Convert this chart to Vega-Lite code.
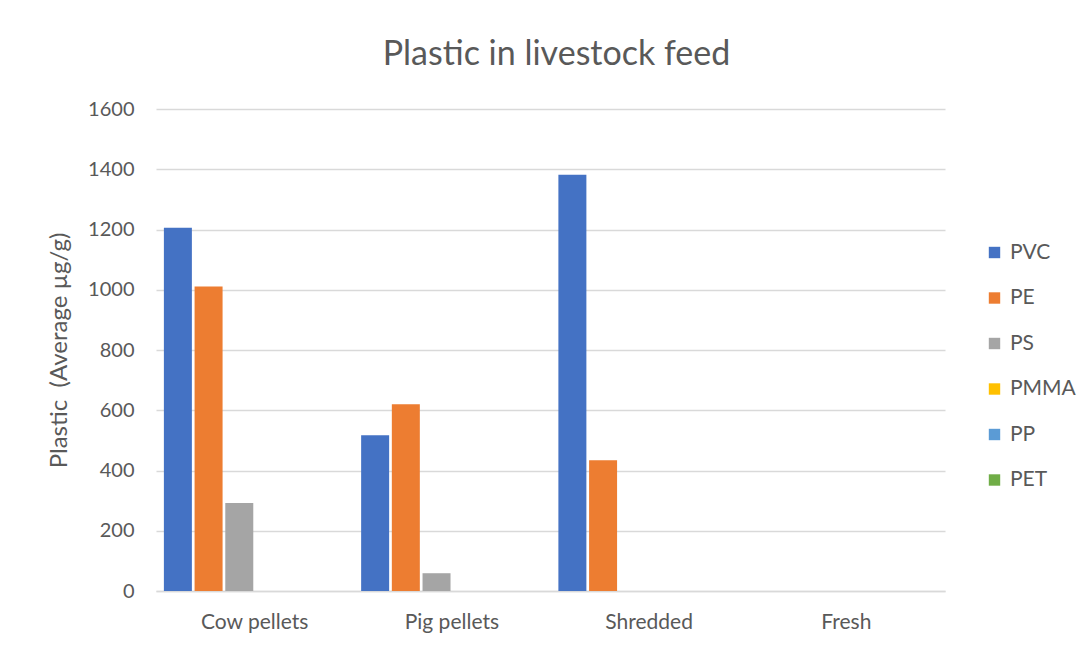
{
  "$schema": "https://vega.github.io/schema/vega-lite/v6.json",
  "autosize": "none",
  "width": 789,
  "height": 482,
  "padding": {"left": 156, "top": 109, "right": 143, "bottom": 57},
  "background": "white",
  "title": {
    "text": "Plastic in livestock feed",
    "fontSize": 34,
    "font": "Lato",
    "fontWeight": "normal",
    "color": "#595959",
    "offset": 27,
    "dx": 6
  },
  "data": {
    "values": [
      {"feed": "Cow pellets", "polymer": "PVC", "value": 1206},
      {"feed": "Cow pellets", "polymer": "PE", "value": 1011},
      {"feed": "Cow pellets", "polymer": "PS", "value": 292},
      {"feed": "Cow pellets", "polymer": "PMMA", "value": 0},
      {"feed": "Cow pellets", "polymer": "PP", "value": 0},
      {"feed": "Cow pellets", "polymer": "PET", "value": 0},
      {"feed": "Pig pellets", "polymer": "PVC", "value": 517},
      {"feed": "Pig pellets", "polymer": "PE", "value": 620},
      {"feed": "Pig pellets", "polymer": "PS", "value": 59},
      {"feed": "Pig pellets", "polymer": "PMMA", "value": 0},
      {"feed": "Pig pellets", "polymer": "PP", "value": 0},
      {"feed": "Pig pellets", "polymer": "PET", "value": 0},
      {"feed": "Shredded", "polymer": "PVC", "value": 1382},
      {"feed": "Shredded", "polymer": "PE", "value": 434},
      {"feed": "Shredded", "polymer": "PS", "value": 0},
      {"feed": "Shredded", "polymer": "PMMA", "value": 0},
      {"feed": "Shredded", "polymer": "PP", "value": 0},
      {"feed": "Shredded", "polymer": "PET", "value": 0},
      {"feed": "Fresh", "polymer": "PVC", "value": 0},
      {"feed": "Fresh", "polymer": "PE", "value": 0},
      {"feed": "Fresh", "polymer": "PS", "value": 0},
      {"feed": "Fresh", "polymer": "PMMA", "value": 0},
      {"feed": "Fresh", "polymer": "PP", "value": 0},
      {"feed": "Fresh", "polymer": "PET", "value": 0}
    ]
  },
  "mark": {"type": "bar"},
  "encoding": {
    "x": {
      "field": "feed",
      "type": "nominal",
      "sort": ["Cow pellets", "Pig pellets", "Shredded", "Fresh"],
      "scale": {"paddingInner": 0, "paddingOuter": 0},
      "axis": {
        "title": null,
        "labelAngle": 0,
        "labelFontSize": 21,
        "labelFont": "Lato",
        "labelColor": "#595959",
        "labelPadding": 20,
        "ticks": false,
        "domainColor": "#d9d9d9",
        "domainWidth": 1.5
      }
    },
    "xOffset": {
      "field": "polymer",
      "type": "nominal",
      "sort": ["PVC", "PE", "PS", "PMMA", "PP", "PET"],
      "scale": {"paddingInner": 0.088, "paddingOuter": 0.257}
    },
    "y": {
      "field": "value",
      "type": "quantitative",
      "scale": {"domain": [0, 1600]},
      "axis": {
        "title": "Plastic\u00a0 (Average µg/g)",
        "titleFont": "Lato",
        "titleFontSize": 24,
        "titleFontWeight": "normal",
        "titleColor": "#595959",
        "titlePadding": 16,
        "values": [0, 200, 400, 600, 800, 1000, 1200, 1400, 1600],
        "format": "d",
        "labelFontSize": 20,
        "labelFont": "Lato",
        "labelColor": "#595959",
        "labelPadding": 22,
        "ticks": false,
        "domain": false,
        "grid": true,
        "gridColor": "#d9d9d9",
        "gridWidth": 1.5
      }
    },
    "color": {
      "field": "polymer",
      "type": "nominal",
      "sort": ["PVC", "PE", "PS", "PMMA", "PP", "PET"],
      "scale": {
        "domain": ["PVC", "PE", "PS", "PMMA", "PP", "PET"],
        "range": ["#4472C4", "#ED7D31", "#A5A5A5", "#FFC000", "#5B9BD5", "#70AD47"]
      },
      "legend": {
        "title": null,
        "orient": "none",
        "legendX": 828,
        "legendY": 133,
        "symbolType": "square",
        "symbolSize": 130,
        "symbolStrokeWidth": 0,
        "labelFont": "Lato",
        "labelFontSize": 21,
        "labelColor": "#595959",
        "labelOffset": 5,
        "rowPadding": 23.5
      }
    }
  },
  "config": {
    "view": {"stroke": null}
  }
}
